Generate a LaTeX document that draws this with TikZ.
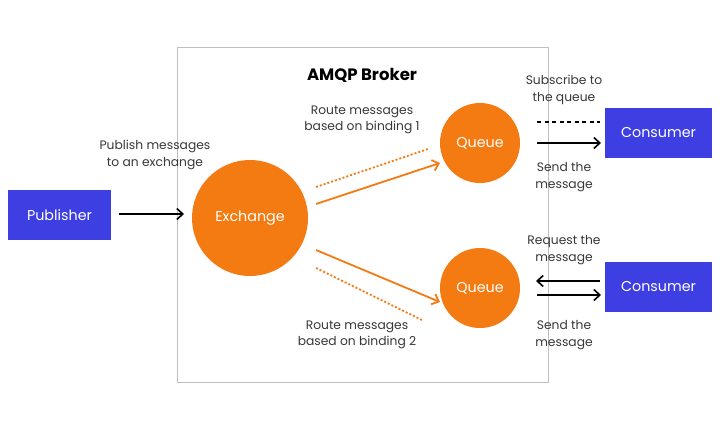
\documentclass[tikz,border=0pt]{standalone}
\usepackage{fontspec}
\setmainfont{Poppins}
\usetikzlibrary{arrows.meta}
\definecolor{obrange}{HTML}{F47A12}
\definecolor{bblue}{HTML}{3D3FE3}
\definecolor{txt}{HTML}{383838}
\tikzset{
  x=1pt,y=-1pt,
  bluebox/.style={fill=bblue,draw=none,minimum width=103pt,minimum height=50pt,text=white,font=\fontsize{14.3}{16}\selectfont,inner sep=0pt},
  orcircle/.style={circle,fill=obrange,draw=none,text=white,font=\fontsize{14.3}{16}\selectfont,inner sep=0pt},
  lbl/.style={align=center,text=txt,font=\fontsize{12.3}{16.5}\selectfont},
  blk/.style={draw=black,line width=1.6pt,-{Straight Barb[length=6pt,width=11pt,line width=1.6pt]}},
  orarr/.style={draw=obrange,line width=1.8pt,-{Straight Barb[length=6pt,width=11pt,line width=1.8pt]}},
  ordot/.style={draw=obrange,line width=1.8pt,dash pattern=on 2pt off 2pt},
}
\begin{document}
\begin{tikzpicture}
\useasboundingbox (0,0) rectangle (720,431);
\fill[white] (0,0) rectangle (720,431);
\draw[draw=black!25,line width=0.8pt] (177,47) rectangle (548,382);
\node[font=\fontseries{sb}\selectfont\fontsize{16.5}{18}\selectfont] (title) at (362,75) {AMQP Broker};

\node[bluebox] (pub) at (59.5,215) {Publisher};
\node[orcircle,minimum size=116pt] (ex) at (250,218) {Exchange};
\node[orcircle,minimum size=80pt] (q1) at (480,143) {Queue};
\node[orcircle,minimum size=80pt] (q2) at (480,288) {Queue};
\node[bluebox,minimum width=107pt] (c1) at (658.5,132.5) {Consumer};
\node[bluebox,minimum width=107pt] (c2) at (658.5,286.5) {Consumer};

\node[lbl] (lpub) at (155,155) {Publish messages\\to an exchange};
\node[lbl] (lb1) at (362,120) {Route messages\\based on binding 1};
\node[lbl] (lb2) at (357,335) {Route messages\\based on binding 2};
\node[lbl] (lsub) at (564,90) {Subscribe to\\the queue};
\node[lbl] (lsend1) at (564,177) {Send the\\message};
\node[lbl] (lreq) at (564,250) {Request the\\message};
\node[lbl] (lsend2) at (564,335) {Send the\\message};

\coordinate (pa) at (119,214);
\coordinate (pb) at (184,214);
\draw[blk] (pa) -- (pb);

\coordinate (e1a) at (316,204); \coordinate (e1b) at (440,163);
\draw[orarr] (e1a) -- (e1b);
\coordinate (d1a) at (316,187); \coordinate (d1b) at (428,149);
\draw[ordot] (d1a) -- (d1b);
\coordinate (e2a) at (316,250); \coordinate (e2b) at (440,302);
\draw[orarr] (e2a) -- (e2b);
\coordinate (d2a) at (316,268); \coordinate (d2b) at (422,320);
\draw[ordot] (d2a) -- (d2b);

\coordinate (s1a) at (537,122); \coordinate (s1b) at (600,122);
\draw[draw=black,line width=2pt,dash pattern=on 4pt off 3.5pt] (s1a) -- (s1b);
\coordinate (m1a) at (537,143); \coordinate (m1b) at (601,143);
\draw[blk] (m1a) -- (m1b);
\coordinate (r2a) at (600,281); \coordinate (r2b) at (536,281);
\draw[blk] (r2a) -- (r2b);
\coordinate (m2a) at (537,295); \coordinate (m2b) at (601,295);
\draw[blk] (m2a) -- (m2b);
\end{tikzpicture}
\end{document}
